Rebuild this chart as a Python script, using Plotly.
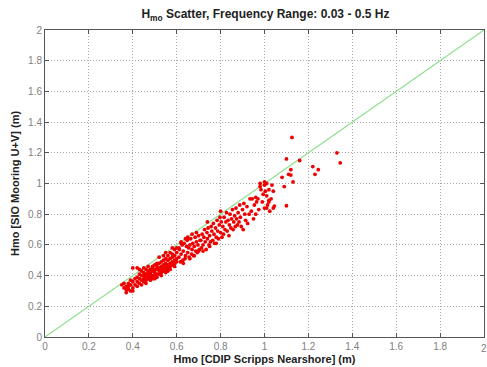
import plotly.graph_objects as go

# Reference 1:1 line endpoints
ref_line = [0, 2]

# Scatter data: Hmo CDIP (x) vs Hmo SIO mooring (y)
hmo_cdip = [
    0.35, 0.36, 0.37, 0.37, 0.38, 0.38, 0.39, 0.39, 0.40, 0.40, 0.40, 0.36, 0.38, 0.39, 0.37, 0.41, 0.41, 0.42, 0.40, 0.42,
    0.42, 0.42, 0.43, 0.43, 0.43, 0.44, 0.44, 0.44, 0.45, 0.45, 0.45, 0.46, 0.46, 0.46, 0.46, 0.47, 0.47, 0.47, 0.47, 0.48,
    0.48, 0.48, 0.48, 0.49, 0.49, 0.49, 0.49, 0.50, 0.50, 0.50, 0.50, 0.44, 0.45, 0.43, 0.46, 0.48, 0.50, 0.47, 0.49, 0.45,
    0.51, 0.51, 0.51, 0.51, 0.52, 0.52, 0.52, 0.52, 0.53, 0.53, 0.53, 0.53, 0.54, 0.54, 0.54, 0.54, 0.55, 0.55, 0.55, 0.55,
    0.56, 0.56, 0.56, 0.56, 0.57, 0.57, 0.57, 0.57, 0.58, 0.58, 0.58, 0.58, 0.59, 0.59, 0.59, 0.59, 0.60, 0.60, 0.60, 0.60,
    0.52, 0.54, 0.56, 0.53, 0.55, 0.57, 0.58, 0.59, 0.55, 0.51,
    0.61, 0.612, 0.617, 0.62, 0.625, 0.628, 0.63, 0.634, 0.638, 0.64, 0.645, 0.648, 0.65, 0.655, 0.657, 0.66, 0.664, 0.668, 0.67, 0.673,
    0.677, 0.68, 0.684, 0.687, 0.69, 0.694, 0.697, 0.70, 0.703, 0.706, 0.62, 0.64, 0.66, 0.68, 0.70, 0.63, 0.65, 0.67, 0.69, 0.61,
    0.65, 0.62,
    0.71, 0.713, 0.716, 0.72, 0.724, 0.727, 0.73, 0.734, 0.738, 0.74, 0.743, 0.747, 0.75, 0.754, 0.757, 0.76, 0.764, 0.767, 0.77, 0.773,
    0.777, 0.78, 0.784, 0.787, 0.79, 0.794, 0.797, 0.80, 0.803, 0.806, 0.72, 0.75, 0.78, 0.80, 0.74,
    0.81, 0.813, 0.816, 0.82, 0.824, 0.827, 0.83, 0.834, 0.838, 0.84, 0.843, 0.847, 0.85, 0.854, 0.857, 0.86, 0.864, 0.867, 0.87, 0.873,
    0.877, 0.88, 0.884, 0.887, 0.89, 0.894, 0.90, 0.903, 0.906, 0.91, 0.914, 0.92, 0.923,
    0.93, 0.934, 0.94, 0.944, 0.95, 0.954, 0.96, 0.964, 0.97, 0.974, 0.98, 0.984, 0.99, 0.994, 1.00, 1.004, 1.01, 1.014, 1.02, 1.024,
    1.03, 1.034, 1.04, 0.96, 1.00, 1.01, 0.98, 1.04, 1.02, 1.01, 1.00, 1.02,
    1.045, 1.10, 1.08, 1.10, 1.11, 1.12, 1.13, 1.09, 1.125, 1.16, 1.22, 1.245, 1.23, 1.12, 1.33, 1.345,
]
hmo_sio = [
    0.34, 0.32, 0.29, 0.33, 0.31, 0.35, 0.30, 0.34, 0.32, 0.36, 0.45, 0.35, 0.33, 0.37, 0.31, 0.34, 0.38, 0.45, 0.30, 0.33,
    0.36, 0.39, 0.35, 0.38, 0.41, 0.37, 0.40, 0.34, 0.38, 0.42, 0.36, 0.39, 0.41, 0.44, 0.37, 0.40, 0.43, 0.38, 0.46, 0.41,
    0.39, 0.44, 0.42, 0.40, 0.43, 0.46, 0.38, 0.42, 0.44, 0.40, 0.47, 0.43, 0.45, 0.44, 0.35, 0.37, 0.38, 0.42, 0.45, 0.40,
    0.41, 0.44, 0.46, 0.39, 0.43, 0.45, 0.48, 0.41, 0.42, 0.46, 0.49, 0.44, 0.45, 0.47, 0.43, 0.50, 0.44, 0.48, 0.51, 0.46,
    0.47, 0.45, 0.50, 0.53, 0.48, 0.46, 0.51, 0.55, 0.49, 0.52, 0.47, 0.54, 0.50, 0.48, 0.53, 0.57, 0.51, 0.49, 0.55, 0.58,
    0.52, 0.53, 0.43, 0.40, 0.42, 0.44, 0.58, 0.46, 0.55, 0.48,
    0.52, 0.57, 0.49, 0.54, 0.60, 0.50, 0.56, 0.61, 0.51, 0.53, 0.59, 0.63, 0.55, 0.58, 0.52, 0.60, 0.64, 0.54, 0.57, 0.61,
    0.53, 0.59, 0.65, 0.56, 0.62, 0.55, 0.60, 0.66, 0.57, 0.63, 0.62, 0.64, 0.51, 0.53, 0.56, 0.48, 0.65, 0.67, 0.68, 0.58,
    0.64, 0.61,
    0.63, 0.58, 0.67, 0.60, 0.65, 0.70, 0.62, 0.57, 0.68, 0.64, 0.71, 0.60, 0.66, 0.62, 0.72, 0.69, 0.63, 0.74, 0.67, 0.61,
    0.71, 0.65, 0.76, 0.69, 0.64, 0.73, 0.78, 0.68, 0.75, 0.65, 0.56, 0.59, 0.61, 0.82, 0.75,
    0.72, 0.67, 0.78, 0.70, 0.75, 0.81, 0.69, 0.76, 0.66, 0.73, 0.80, 0.71, 0.77, 0.83, 0.70, 0.75, 0.79, 0.72, 0.84, 0.77,
    0.73, 0.81, 0.75, 0.86, 0.78, 0.72, 0.83, 0.70, 0.87, 0.80, 0.76, 0.85, 0.74,
    0.80, 0.90, 0.82, 0.90, 0.77, 0.86, 0.80, 0.88, 0.90, 0.83, 1.00, 0.96, 0.88, 0.93, 1.01, 0.95, 0.92, 0.86, 0.96, 0.82,
    0.90, 0.99, 0.84, 0.91, 0.99, 1.00, 0.98, 0.95, 0.89, 0.84, 0.84, 0.88,
    0.853, 0.855, 1.04, 1.16, 1.06, 1.09, 1.01, 0.98, 1.30, 1.15, 1.11, 1.09, 1.06, 1.055, 1.20, 1.135,
]

tick_vals = [0, 0.2, 0.4, 0.6, 0.8, 1, 1.2, 1.4, 1.6, 1.8, 2]
tick_text = ["0", "0.2", "0.4", "0.6", "0.8", "1", "1.2", "1.4", "1.6", "1.8", "2"]

font_family = "Liberation Sans, Arial, sans-serif"

fig = go.Figure()
fig.add_trace(go.Scatter(
    x=ref_line, y=ref_line, mode="lines",
    line=dict(color="#8fe08f", width=1.2), hoverinfo="skip", showlegend=False,
))
fig.add_trace(go.Scatter(
    x=hmo_cdip, y=hmo_sio, mode="markers",
    marker=dict(color="#ee0000", size=3.8, line=dict(width=0)),
    showlegend=False,
))

axis_common = dict(
    range=[0, 2], tickvals=tick_vals, ticktext=tick_text,
    showgrid=True, gridcolor="#a8a8a8", griddash="1px,2px", gridwidth=1,
    showline=True, linecolor="#555555", linewidth=1, mirror="ticks",
    ticks="inside", ticklen=4, tickcolor="#555555",
    zeroline=False,
    tickfont=dict(family=font_family, size=10, color="#808080"),
)

# The last x tick label sits at the very edge of the window (partly cut in the reference)
fig.add_annotation(
    x=tick_vals[-1], xref="x", y=0, yref="paper", yshift=-4,
    text=tick_text[-1], showarrow=False, xanchor="center", yanchor="top",
    font=dict(family=font_family, size=10, color="#808080"),
)

fig.update_layout(
    width=487, height=367,
    margin=dict(l=45, r=3, t=30, b=30),
    paper_bgcolor="white", plot_bgcolor="white",
    title=dict(
        text="<b>H<sub>mo</sub> Scatter, Frequency Range: 0.03 - 0.5 Hz</b>",
        x=0.545, xanchor="center", y=0.962, yanchor="middle",
        font=dict(family=font_family, size=12, color="#222222"),
    ),
    xaxis=dict(**axis_common, title=dict(
        text="<b>Hmo [CDIP Scripps Nearshore] (m)</b>", standoff=4,
        font=dict(family=font_family, size=11, color="#222222"))),
    yaxis=dict(**axis_common, title=dict(
        text="<b>Hmo [SIO Mooring U+V] (m)</b>", standoff=6,
        font=dict(family=font_family, size=11, color="#222222"))),
)

fig.write_html("out.html")
